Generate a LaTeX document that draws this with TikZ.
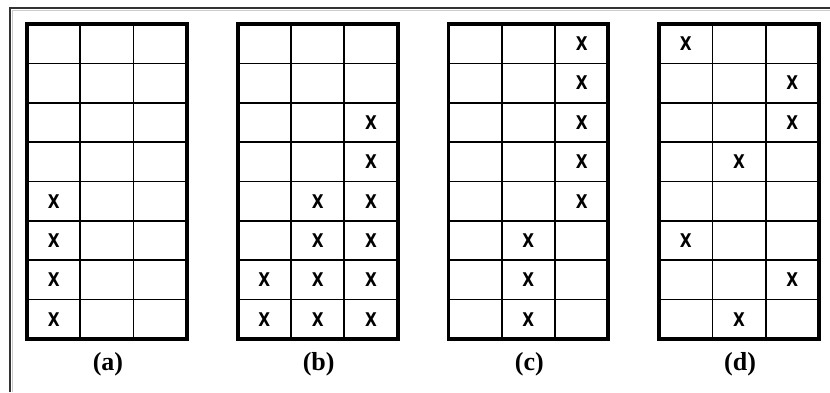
\documentclass[tikz,border=0pt]{standalone}
\usepackage{fontspec}
\newfontfamily\markfont{DejaVu Sans}[BoldFont={DejaVu Sans Bold}]
\newfontfamily\labfont{Liberation Serif}[BoldFont={Liberation Serif Bold}]
\usetikzlibrary{calc}
\newcommand{\xsign}{\scalebox{0.85}[1.05]{X}}

\begin{document}
\begin{tikzpicture}[x=1pt,y=1pt,
  thinline/.style={line width=1.7pt},
  thickline/.style={line width=3.8pt},
  xmark/.style={font=\markfont\bfseries\fontsize{18}{18}\selectfont,inner sep=0pt},
  sublabel/.style={font=\labfont\bfseries\fontsize{26}{26}\selectfont,inner sep=0pt}]
			%%%%% START %%%%%
			\def\cw{53.3}
			\def\ch{39.375}
			\def\gap{210.7}
			\def\gx{27}
			\def\gy{-24}
			
			\useasboundingbox (0,0) rectangle (830,-392);
			\draw[line width=2pt,black!80] (10,-392) -- (10,-8) -- (830,-8);
			\draw[line width=1pt,black!20] (12.5,-392) -- (12.5,-10.5) -- (830,-10.5);
			
			\foreach \g/\name in {0/a,1/b,2/c,3/d}{
				\coordinate (nw-\name) at (\gx+\g*\gap,\gy);
				\foreach \i in {1,2}
					\draw[thinline] ($(nw-\name)+(\i*\cw,0)$) -- ++(0,-8*\ch);
				\foreach \j in {1,...,7}
					\draw[thinline] ($(nw-\name)+(0,-\j*\ch)$) -- ++(3*\cw,0);
				\draw[thickline] (nw-\name) rectangle ++(3*\cw,-8*\ch);
				\node[sublabel] (lab-\name) at ($(nw-\name)+(1.5*\cw+1,-8*\ch-25)$) {(\name)};
			}
			
			\foreach \name/\cc/\rr in {a/0/4,a/0/5,a/0/6,a/0/7,
				b/2/2,b/2/3,b/2/4,b/2/5,b/2/6,b/2/7,b/1/4,b/1/5,b/1/6,b/1/7,b/0/6,b/0/7,
				c/2/0,c/2/1,c/2/2,c/2/3,c/2/4,c/1/5,c/1/6,c/1/7,
				d/0/0,d/2/1,d/2/2,d/1/3,d/0/5,d/2/6,d/1/7}
				\node[xmark] (x-\name-\cc-\rr) at ($(nw-\name)+(\cc*\cw+0.5*\cw,-\rr*\ch-0.5*\ch)$) {\xsign};
			%%%%% END %%%%%
\end{tikzpicture}
\end{document}
